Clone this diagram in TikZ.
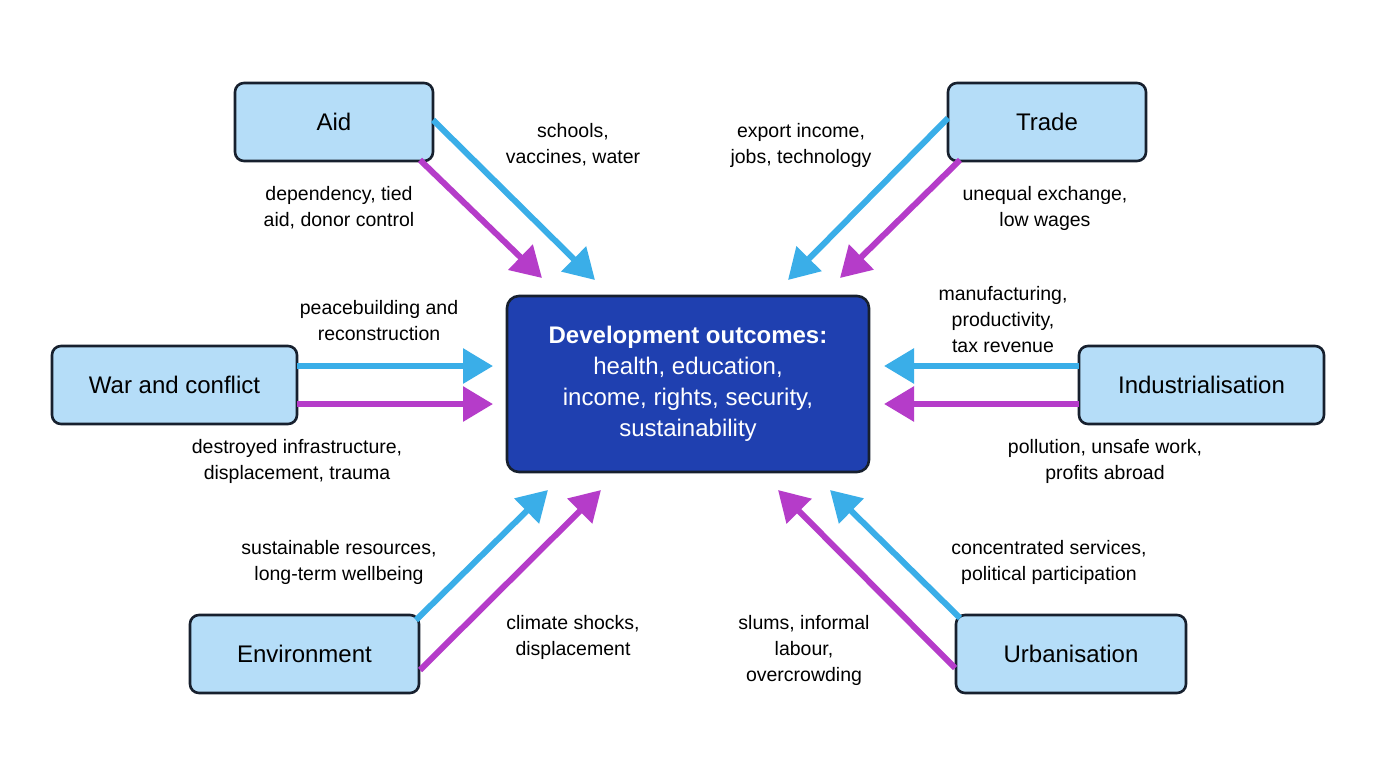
\documentclass[tikz,border=0pt]{standalone}
\usepackage{fontspec}
\setmainfont{Liberation Sans}
\usetikzlibrary{arrows.meta}
\definecolor{boxfill}{HTML}{B5DDF8}
\definecolor{boxline}{HTML}{17202E}
\definecolor{cblue}{HTML}{1F40B0}
\definecolor{ablue}{HTML}{3AAEE8}
\definecolor{amag}{HTML}{B53CC9}
\begin{document}
\begin{tikzpicture}[x=1pt,y=-1pt,
  box/.style={draw=boxline,line width=2.6pt,fill=boxfill,rounded corners=9pt,minimum height=78pt,font=\fontsize{24}{28}\selectfont,inner sep=0pt},
  lab/.style={font=\fontsize{19.5}{26}\selectfont,align=center,text=black},
  posarr/.style={draw=ablue,line width=6pt,-{Triangle[length=30pt,width=34pt]}},
  negarr/.style={draw=amag,line width=6pt,-{Triangle[length=30pt,width=34pt]}}]
\useasboundingbox (0,0) rectangle (1376,768);
\fill[white] (0,0) rectangle (1376,768);
\node[box,minimum width=198pt] (aid) at (334,122) {Aid};
\node[box,minimum width=198pt] (trade) at (1047,122) {Trade};
\node[box,minimum width=245pt] (war) at (174.5,385) {War and conflict};
\node[box,minimum width=245pt] (ind) at (1201.5,385) {Industrialisation};
\node[box,minimum width=229pt] (env) at (304.5,654) {Environment};
\node[box,minimum width=230pt] (urb) at (1071,654) {Urbanisation};
\node[draw=boxline,line width=2.6pt,fill=cblue,rounded corners=12pt,minimum width=362pt,minimum height=176pt,text=white,align=center,font=\fontsize{24}{31}\selectfont] (c) at (688,384)
 {\textbf{Development outcomes:}\\health, education,\\income, rights, security,\\sustainability};
% endpoints
\coordinate (a1) at (433,120); \coordinate (a1e) at (595,280);
\coordinate (a2) at (420,160); \coordinate (a2e) at (542,278);
\coordinate (t1) at (948,118); \coordinate (t1e) at (788,280);
\coordinate (t2) at (960,160); \coordinate (t2e) at (840,278);
\coordinate (w1) at (297,366); \coordinate (w1e) at (493,366);
\coordinate (w2) at (297,404); \coordinate (w2e) at (493,404);
\coordinate (i1) at (1079,366); \coordinate (i1e) at (884,366);
\coordinate (i2) at (1079,404); \coordinate (i2e) at (884,404);
\coordinate (e1) at (416,620); \coordinate (e1e) at (548,490);
\coordinate (e2) at (420,670); \coordinate (e2e) at (601,490);
\coordinate (u1) at (960,618); \coordinate (u1e) at (830,490);
\coordinate (u2) at (955,668); \coordinate (u2e) at (778,490);
\draw[posarr] (a1) -- (a1e); \draw[negarr] (a2) -- (a2e);
\draw[posarr] (t1) -- (t1e); \draw[negarr] (t2) -- (t2e);
\draw[posarr] (w1) -- (w1e); \draw[negarr] (w2) -- (w2e);
\draw[posarr] (i1) -- (i1e); \draw[negarr] (i2) -- (i2e);
\draw[posarr] (e1) -- (e1e); \draw[negarr] (e2) -- (e2e);
\draw[posarr] (u1) -- (u1e); \draw[negarr] (u2) -- (u2e);
% labels
\node[lab] (l1) at (573,145) {schools,\\vaccines, water};
\node[lab] (l2) at (339,208) {dependency, tied\\aid, donor control};
\node[lab] (l3) at (801,145) {export income,\\jobs, technology};
\node[lab] (l4) at (1045,208) {unequal exchange,\\low wages};
\node[lab] (l5) at (379,321) {peacebuilding and\\reconstruction};
\node[lab] (l6) at (297,461) {destroyed infrastructure,\\displacement, trauma};
\node[lab] (l7) at (1003,320) {manufacturing,\\productivity,\\tax revenue};
\node[lab] (l8) at (1105,461) {pollution, unsafe work,\\profits abroad};
\node[lab] (l9) at (339,562) {sustainable resources,\\long-term wellbeing};
\node[lab] (l10) at (573,637) {climate shocks,\\displacement};
\node[lab] (l11) at (1049,562) {concentrated services,\\political participation};
\node[lab] (l12) at (804,650) {slums, informal\\labour,\\overcrowding};
\end{tikzpicture}
\end{document}
